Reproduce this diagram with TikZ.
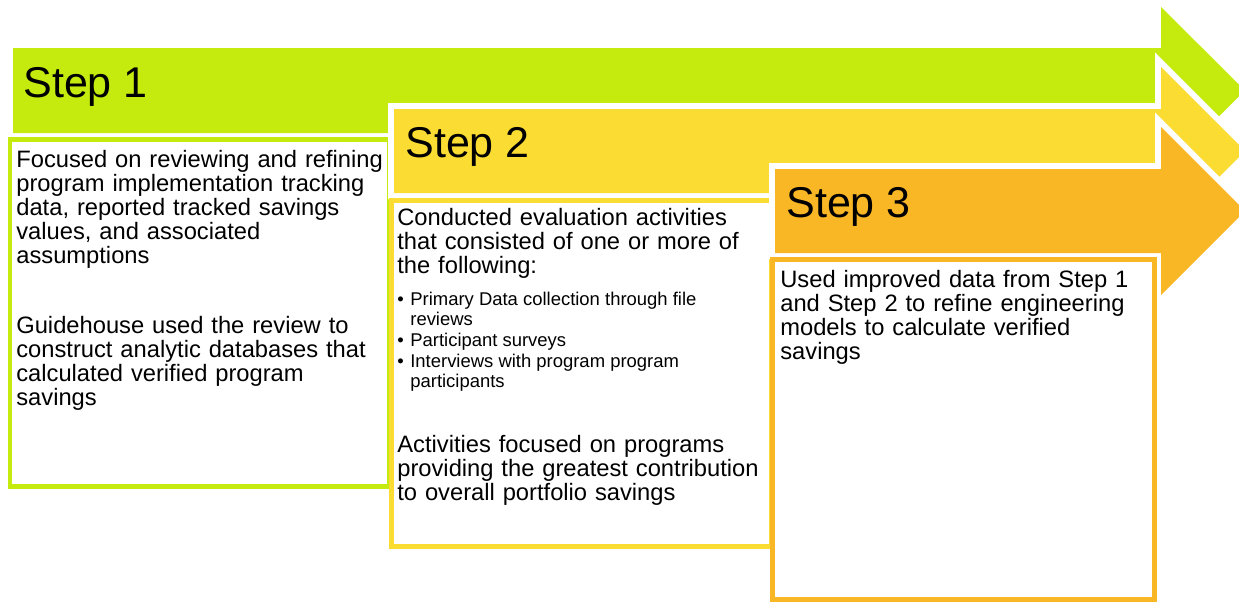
\documentclass[tikz,border=0pt]{standalone}
\usepackage{fontspec}
\setmainfont{Liberation Sans}
\usepackage{xcolor}
\usepackage{tikz}

\definecolor{stepgreen}{RGB}{197,235,14}
\definecolor{stepyellow}{RGB}{250,220,50}
\definecolor{steporange}{RGB}{249,182,37}

\begin{document}
\begin{tikzpicture}[x=0.02cm, y=-0.02cm,
    banner/.style={fill=#1, preaction={draw=white, line width=0.24cm}},
    textbox/.style={draw=#1, fill=white, line width=0.1cm},
    heading/.style={anchor=base west, inner sep=0pt, font=\fontsize{24.5}{29}\selectfont},
    body/.style={anchor=base west, inner sep=0pt, align=left, text width=7.6cm,
        font=\fontsize{13.5}{13.8}\selectfont},
    bullets/.style={anchor=base west, inner sep=0pt, font=\fontsize{10.5}{11.8}\selectfont}]

    \useasboundingbox (0,0) rectangle (1239,602);
    \clip (0,0) rectangle (1239,602);

    % step 1
    \fill[stepgreen] (13,48) -- (1161,48) -- (1161,7) -- (1245,90.5)
        -- (1161,174) -- (1161,133) -- (13,133) -- cycle;
    \draw[textbox=stepgreen] (10,139) rectangle (389,486);
    \node[heading] (h1) at (23,97) {Step 1};
    \node[body] (s1a) at (16,167) {Focused on reviewing and refining\\program implementation tracking\\data, reported tracked savings\\values, and associated\\assumptions};
    \node[body] (s1b) at (16,333) {Guidehouse used the review to\\construct analytic databases that\\calculated verified program\\savings};

    % step 2
    \path[banner=stepyellow] (394,109) -- (1161,109) -- (1161,67) -- (1245,151)
        -- (1161,235) -- (1161,193) -- (394,193) -- cycle;
    \draw[textbox=stepyellow] (391,200) rectangle (771,546.5);
    \node[heading] (h2) at (405,157) {Step 2};
    \node[body] (s2a) at (397,225) {Conducted evaluation activities\\that consisted of one or more of\\the following:};
    \node[bullets] (s2b) at (397,305) {%
        \begin{tabular}[t]{@{}p{7.4pt}@{}l@{}}
        \textbullet & Primary Data collection through file\\
                    & reviews\\
        \textbullet & Participant surveys\\
        \textbullet & Interviews with program program\\
                    & participants
        \end{tabular}};
    \node[body] (s2c) at (397,452) {Activities focused on programs\\providing the greatest contribution\\to overall portfolio savings};

    % step 3
    \path[banner=steporange] (775,169) -- (1161,169) -- (1161,127) -- (1245,211)
        -- (1161,295) -- (1161,253) -- (775,253) -- cycle;
    \draw[textbox=steporange] (772.5,259.5) rectangle (1154.5,599);
    \node[heading] (h3) at (786,217) {Step 3};
    \node[body] (s3a) at (780,287) {Used improved data from Step 1\\and Step 2 to refine engineering\\models to calculate verified\\savings};
\end{tikzpicture}
\end{document}
